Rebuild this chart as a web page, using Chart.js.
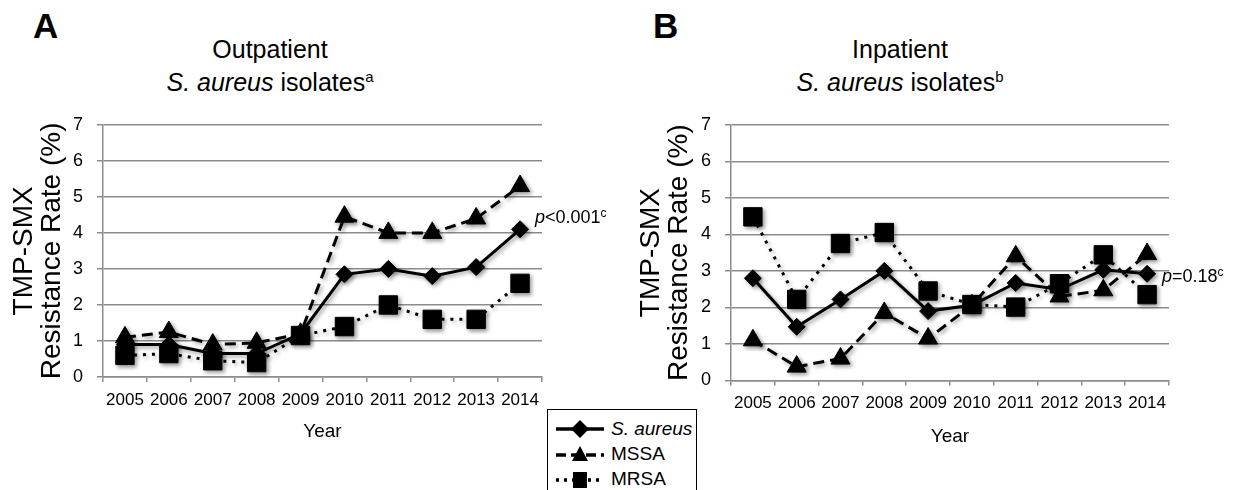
<!DOCTYPE html>
<html>
<head>
<meta charset="utf-8">
<script src="https://cdn.jsdelivr.net/npm/chart.js@4.4.0/dist/chart.umd.min.js"></script>
<style>
  body { margin: 0; background: #fff; font-family: "Liberation Sans", Arial, sans-serif; color: #000; }
  #wrap { position: relative; width: 1236px; height: 490px; overflow: hidden; }
  .abs { position: absolute; }
  .letter { font-weight: bold; font-size: 35px; line-height: 35px; }
  .title { font-size: 25px; line-height: 33px; text-align: center; width: 320px; }
  .title sup { font-size: 15px; vertical-align: 9px; line-height: 0; }
  .pval { font-size: 18px; line-height: 20px; white-space: nowrap; }
  .pval sup { font-size: 12px; vertical-align: 6px; line-height: 0; }
  #legend { left: 547px; top: 409px; width: 148px; height: 90px; border: 1.5px solid #000; background: #fff; }
  .lrow { position: absolute; left: 8px; height: 24px; display: flex; align-items: center; font-size: 19px; white-space: nowrap; }
  .lrow svg { margin-right: 7px; flex: none; }
</style>
</head>
<body>
<div id="wrap">
  <div class="abs letter" style="left:33px;top:8px;">A</div>
  <div class="abs letter" style="left:653px;top:8px;">B</div>
  <div class="abs title" style="left:110px;top:33px;">Outpatient<br><i>S. aureus</i> isolates<sup>a</sup></div>
  <div class="abs title" style="left:740px;top:33px;">Inpatient<br><i>S. aureus</i> isolates<sup>b</sup></div>

  <canvas id="chartA" class="abs" style="left:0;top:100px;"></canvas>
  <canvas id="chartB" class="abs" style="left:620px;top:100px;"></canvas>

  <div class="abs pval" style="left:535px;top:207px;"><i>p</i>&lt;0.001<sup>c</sup></div>
  <div class="abs pval" style="left:1162px;top:266px;"><i>p</i>=0.18<sup>c</sup></div>

  <div id="legend" class="abs">
    <div class="lrow" style="top:7px;">
      <svg width="48" height="20"><line x1="0" y1="10" x2="48" y2="10" stroke="#000" stroke-width="3.5"/><polygon points="24,1 33,10 24,19 15,10" fill="#000"/></svg><i>S. aureus</i>
    </div>
    <div class="lrow" style="top:32px;">
      <svg width="48" height="20"><line x1="0" y1="11" x2="48" y2="11" stroke="#000" stroke-width="3.5" stroke-dasharray="10,5"/><polygon points="24,2 32,17 16,17" fill="#000"/></svg>MSSA
    </div>
    <div class="lrow" style="top:57px;">
      <svg width="48" height="20"><line x1="0" y1="11" x2="48" y2="11" stroke="#000" stroke-width="3.5" stroke-dasharray="3,5"/><rect x="17" y="3" width="14" height="16" fill="#000"/></svg>MRSA
    </div>
  </div>
</div>

<script>
const years = ['2005', '2006', '2007', '2008', '2009', '2010', '2011', '2012', '2013', '2014'];

// panel A, outpatient (%)
const outSaureus = [0.9, 0.9, 0.65, 0.65, 1.2, 2.85, 3.0, 2.8, 3.05, 4.1];
const outMSSA = [1.1, 1.25, 0.9, 0.95, 1.2, 4.45, 4.0, 4.0, 4.4, 5.3];
const outMRSA = [0.6, 0.65, 0.45, 0.4, 1.15, 1.4, 2.0, 1.6, 1.6, 2.6];

// panel B, inpatient (%)
const inSaureus = [2.8, 1.47, 2.22, 3.0, 1.9, 2.06, 2.67, 2.49, 3.03, 2.92];
const inMSSA = [1.1, 0.38, 0.6, 1.85, 1.15, 2.06, 3.4, 2.3, 2.47, 3.46];
const inMRSA = [4.48, 2.22, 3.75, 4.05, 2.45, 2.08, 2.01, 2.65, 3.44, 2.35];

const yTicks = [0, 1, 2, 3, 4, 5, 6, 7];

const FONT = '"Liberation Sans", Arial, sans-serif';
const GRID = '#8c8c8c';

// soft drop shadow under lines and markers, like the office chart
const shadowPlugin = {
  id: 'shadow',
  beforeDatasetDraw(chart) {
    const ctx = chart.ctx;
    ctx.save();
    ctx.shadowColor = 'rgba(0,0,0,0.4)';
    ctx.shadowBlur = 4;
    ctx.shadowOffsetX = 2;
    ctx.shadowOffsetY = 2;
  },
  afterDatasetDraw(chart) {
    chart.ctx.restore();
  }
};

function makeDatasets(sa, mssa, mrsa) {
  return [
    { label: 'S. aureus', data: sa, borderColor: '#000', backgroundColor: '#000', borderWidth: 3,
      pointStyle: 'rectRot', pointRadius: 8.5, pointBorderWidth: 1, order: 1 },
    { label: 'MSSA', data: mssa, borderColor: '#000', backgroundColor: '#000', borderWidth: 3, borderDash: [11, 6],
      pointStyle: 'triangle', pointRadius: 11, pointBorderWidth: 1, order: 2 },
    { label: 'MRSA', data: mrsa, borderColor: '#000', backgroundColor: '#000', borderWidth: 3, borderDash: [3, 6],
      pointStyle: 'rect', pointRadius: 13, pointBorderWidth: 1, order: 0 }
  ];
}

function makeChart(id, w, h, sa, mssa, mrsa, box) {
  const cv = document.getElementById(id);
  cv.width = w;
  cv.height = h;
  return new Chart(cv.getContext('2d'), {
    type: 'line',
    data: { labels: years, datasets: makeDatasets(sa, mssa, mrsa) },
    plugins: [shadowPlugin],
    options: {
      responsive: false,
      animation: false,
      layout: { padding: { top: box.top, right: box.right, left: 0, bottom: 0 } },
      plugins: { legend: { display: false }, tooltip: { enabled: false } },
      scales: {
        x: {
          offset: true,
          grid: { offset: true, drawOnChartArea: false, color: GRID, lineWidth: 1.5, tickLength: 5 },
          border: { color: GRID, width: 1.5 },
          ticks: { color: '#000', font: { family: FONT, size: 17 }, padding: 8, maxRotation: 0, autoSkip: false },
          title: { display: true, text: 'Year', color: '#000', font: { family: FONT, size: 19 }, padding: { top: 0, bottom: 3 } },
          afterFit: s => { s.height = box.xh; }
        },
        y: {
          min: 0, max: 7,
          afterBuildTicks: s => { s.ticks = yTicks.map(v => ({ value: v })); },
          grid: { color: GRID, lineWidth: 1.5, tickLength: 6 },
          border: { color: GRID, width: 1.5 },
          ticks: { color: '#000', font: { family: FONT, size: 18 }, padding: 14 },
          title: { display: true, text: ['TMP-SMX', 'Resistance Rate (%)'], color: '#000',
                   font: { family: FONT, size: 28, lineHeight: 1.0 }, padding: { top: box.ytp, bottom: 0 } },
          afterFit: s => { s.width = box.yw; }
        }
      }
    }
  });
}

makeChart('chartA', 600, 346, outSaureus, outMSSA, outMRSA, { top: 23, right: 58, xh: 69, yw: 103, ytp: 10 });
makeChart('chartB', 616, 351, inSaureus, inMSSA, inMRSA, { top: 23.5, right: 67, xh: 70.5, yw: 111, ytp: 17 });
</script>
</body>
</html>
